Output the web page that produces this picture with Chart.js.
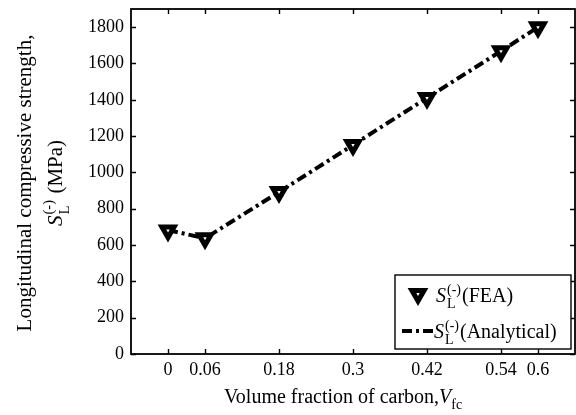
<!DOCTYPE html>
<html>
<head>
<meta charset="utf-8">
<script src="https://cdn.jsdelivr.net/npm/chart.js@4.4.1/dist/chart.umd.min.js"></script>
<style>
html,body{margin:0;padding:0;background:#fff;}
#wrap{width:576px;height:415px;position:relative;}
</style>
</head>
<body>
<div id="wrap"><canvas id="c" width="576" height="415"></canvas></div>
<script>
// ---- data ----
const categories = [0, 0.06, 0.18, 0.3, 0.42, 0.54, 0.6];
const feaValues = [680, 637, 892, 1151, 1410, 1668, 1800];
const analyticalValues = [683, 637, 892, 1151, 1410, 1668, 1800];
const xTickValues = [0, 0.06, 0.18, 0.3, 0.42, 0.54, 0.6];
const yTickValues = [0, 200, 400, 600, 800, 1000, 1200, 1400, 1600, 1800];

const FONT = '"Liberation Serif", "Times New Roman", serif';

function drawRich(ctx, x, y, parts, size) {
  let cx = x;
  let i = 0;
  while (i < parts.length) {
    const p = parts[i];
    if (p.sup && parts[i+1] && parts[i+1].sub) {
      const s1 = size * 0.7;
      ctx.font = s1 + 'px ' + FONT;
      const w1 = ctx.measureText(p.t).width;
      ctx.fillText(p.t, cx, y - size * 0.42);
      ctx.font = (parts[i+1].italic ? 'italic ' : '') + s1 + 'px ' + FONT;
      const w2 = ctx.measureText(parts[i+1].t).width;
      ctx.fillText(parts[i+1].t, cx, y + size * 0.32);
      cx += Math.max(w1, w2) + 1;
      i += 2;
      continue;
    }
    const s = (p.sub || p.sup) ? size * 0.7 : size;
    ctx.font = (p.italic ? 'italic ' : '') + s + 'px ' + FONT;
    const dy = p.sub ? size * 0.32 : (p.sup ? -size * 0.42 : 0);
    ctx.fillText(p.t, cx, y + dy);
    cx += ctx.measureText(p.t).width + (p.gap || 0);
    i++;
  }
  return cx - x;
}
function richWidth(ctx, parts, size) {
  ctx.save();
  ctx.globalAlpha = 0;
  const w = drawRich(ctx, -9999, -9999, parts, size);
  ctx.restore();
  return w;
}

const MARK_R = 7, MARK_BW = 5;

const decorPlugin = {
  id: 'decor',
  afterDatasetsDraw(chart) {
    const ctx = chart.ctx;
    const a = chart.chartArea;
    const xs = chart.scales.x, ys = chart.scales.y;
    ctx.save();
    // inward ticks
    ctx.strokeStyle = '#000';
    ctx.lineWidth = 1.4;
    ctx.beginPath();
    xTickValues.forEach(v => {
      const px = Math.round(xs.getPixelForValue(v)) + 0.5;
      ctx.moveTo(px, a.bottom); ctx.lineTo(px, a.bottom - 5);
      ctx.moveTo(px, a.top); ctx.lineTo(px, a.top + 5);
    });
    yTickValues.forEach(v => {
      const py = Math.round(ys.getPixelForValue(v)) + 0.5;
      ctx.moveTo(a.left, py); ctx.lineTo(a.left + 5, py);
      ctx.moveTo(a.right, py); ctx.lineTo(a.right - 5, py);
    });
    ctx.stroke();
    // frame
    ctx.lineWidth = 1.8;
    ctx.strokeRect(a.left, a.top, a.right - a.left, a.bottom - a.top);

    // legend
    const lx = 395, ly = 275, lw = 176, lh = 74;
    ctx.fillStyle = '#fff';
    ctx.fillRect(lx, ly, lw, lh);
    ctx.lineWidth = 1.4;
    ctx.strokeStyle = '#000';
    ctx.strokeRect(lx, ly, lw, lh);
    // marker sample
    const mx = 418, my = 294, r = MARK_R;
    ctx.fillStyle = '#fff';
    ctx.strokeStyle = '#000';
    ctx.lineWidth = MARK_BW;
    ctx.beginPath();
    ctx.moveTo(mx, my + r);
    ctx.lineTo(mx + r * Math.sin(2*Math.PI/3), my - r * 0.5);
    ctx.lineTo(mx - r * Math.sin(2*Math.PI/3), my - r * 0.5);
    ctx.closePath();
    ctx.fill(); ctx.stroke();
    // line sample
    ctx.lineWidth = 4;
    ctx.setLineDash([10, 4, 3, 4]);
    ctx.beginPath();
    ctx.moveTo(402, 331); ctx.lineTo(434, 331);
    ctx.stroke();
    ctx.setLineDash([]);
    ctx.fillStyle = '#000';
    ctx.textBaseline = 'alphabetic';
    ctx.textAlign = 'left';
    drawRich(ctx, 436, 302, [{t:'S', italic:true, gap:1}, {t:'(-)', sup:true}, {t:'L', sub:true}, {t:'(FEA)'}], 20);
    drawRich(ctx, 434, 338, [{t:'S', italic:true, gap:1}, {t:'(-)', sup:true}, {t:'L', sub:true}, {t:'(Analytical)'}], 20);

    // x title
    const xParts = [{t:'Volume fraction of carbon,'}, {t:'V', italic:true}, {t:'fc', sub:true}];
    ctx.fillStyle = '#000';
    drawRich(ctx, 224, 403, xParts, 20);

    // y title line 1
    ctx.save();
    ctx.translate(31, 183);
    ctx.rotate(-Math.PI / 2);
    ctx.font = '21px ' + FONT;
    ctx.textAlign = 'center';
    ctx.fillText('Longitudinal compressive strength,', 0, 0);
    ctx.restore();
    // y title line 2
    const yParts = [{t:'S', italic:true, gap:1}, {t:'(-)', sup:true}, {t:'L', sub:true}, {t:' (MPa)'}];
    const yw = richWidth(ctx, yParts, 21);
    ctx.save();
    ctx.translate(62, 183);
    ctx.rotate(-Math.PI / 2);
    ctx.textAlign = 'left';
    ctx.fillStyle = '#000';
    drawRich(ctx, -yw / 2, 0, yParts, 21);
    ctx.restore();

    ctx.restore();
  }
};

new Chart(document.getElementById('c'), {
  type: 'scatter',
  data: {
    datasets: [
      {
        label: 'FEA',
        data: categories.map((x, i) => ({x, y: feaValues[i]})),
        showLine: false,
        pointStyle: 'triangle',
        rotation: 180,
        pointRadius: MARK_R,
        pointBorderWidth: MARK_BW,
        pointBackgroundColor: '#fff',
        pointBorderColor: '#000',
        order: 0
      },
      {
        label: 'Analytical',
        data: categories.map((x, i) => ({x, y: analyticalValues[i]})),
        showLine: true,
        borderColor: '#000',
        borderWidth: 4,
        borderDash: [10, 4, 3, 4],
        pointRadius: 0,
        fill: false,
        order: 1
      }
    ]
  },
  options: {
    responsive: false,
    animation: false,
    devicePixelRatio: 1,
    layout: {autoPadding: false, padding: {left: 0, top: 9, right: 1, bottom: 0}},
    plugins: {legend: {display: false}, tooltip: {enabled: false}},
    scales: {
      x: {
        type: 'linear', min: -0.06, max: 0.66,
        afterBuildTicks: s => { s.ticks = xTickValues.map(v => ({value: v})); },
        afterFit: s => { s.height = 61; s.paddingLeft = 0; s.paddingRight = 0; },
        grid: {display: false, drawTicks: false},
        border: {display: false},
        ticks: {
          color: '#000', padding: 5, maxRotation: 0, autoSkip: false,
          font: {family: FONT, size: 18},
          callback: v => String(v)
        }
      },
      y: {
        type: 'linear', min: 0, max: 1900,
        afterBuildTicks: s => { s.ticks = yTickValues.map(v => ({value: v})); },
        afterFit: s => { s.width = 131; s.paddingTop = 0; s.paddingBottom = 0; },
        grid: {display: false, drawTicks: false},
        border: {display: false},
        ticks: {
          color: '#000', padding: 7, autoSkip: false,
          font: {family: FONT, size: 18},
          callback: v => String(v)
        }
      }
    }
  },
  plugins: [decorPlugin]
});
</script>
</body>
</html>
